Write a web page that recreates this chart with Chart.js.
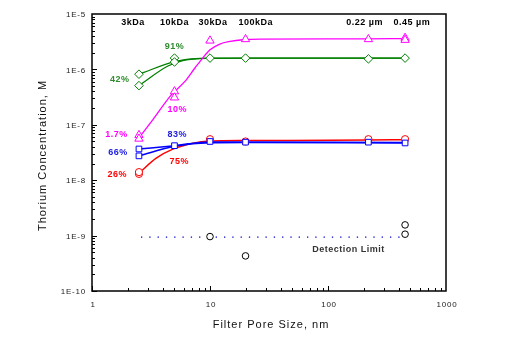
<!DOCTYPE html>
<html>
<head>
<meta charset="utf-8">
<script src="https://cdn.jsdelivr.net/npm/chart.js@4/dist/chart.umd.min.js"></script>
<style>
  html, body { margin: 0; padding: 0; background: #fff; }
  canvas { display: block; }
</style>
</head>
<body>
<canvas id="poreChart" width="519" height="340"></canvas>
<script>
// 軸の目盛
const xTicks = [1, 10, 100, 1000];
const xTickLabels = ['1', '10', '100', '1000'];
const yTicks = [1e-10, 1e-9, 1e-8, 1e-7, 1e-6, 1e-5];
const yTickLabels = ['1E-10', '1E-9', '1E-8', '1E-7', '1E-6', '1E-5'];

// 測定点 (ろ過孔径 nm, Th 濃度 M)
const magentaX = [2.5, 2.5, 5, 5, 10, 20, 220, 450, 450];
const magentaY = [6.5e-8, 5.6e-8, 4.0e-7, 3.1e-7, 3.3e-6, 3.5e-6, 3.5e-6, 3.7e-6, 3.4e-6];
const greenX = [2.5, 2.5, 5, 5, 10, 20, 220, 450];
const greenY = [8.2e-7, 5.1e-7, 1.6e-6, 1.36e-6, 1.6e-6, 1.6e-6, 1.55e-6, 1.6e-6];
const blueX = [2.5, 2.5, 5, 10, 20, 220, 450];
const blueY = [3.66e-8, 2.75e-8, 4.2e-8, 5.0e-8, 4.86e-8, 4.86e-8, 4.7e-8];
const redX = [2.5, 2.5, 10, 20, 220, 450];
const redY = [1.3e-8, 1.4e-8, 5.5e-8, 5.0e-8, 5.5e-8, 5.5e-8];
const blackX = [10, 20, 450, 450];
const blackY = [9.6e-10, 4.3e-10, 1.56e-9, 1.06e-9];

// フィット曲線
const magentaFitX = [2.5, 3.27, 4.72, 6.1, 7.45, 8.7, 10, 12.1, 14.8, 19, 26.5, 220, 450];
const magentaFitY = [5.8e-8, 1.23e-7, 3.5e-7, 6.0e-7, 1.06e-6, 1.62e-6, 2.26e-6, 2.87e-6, 3.2e-6, 3.43e-6, 3.53e-6, 3.55e-6, 3.6e-6];
const greenFitAX = [2.5, 5, 7, 10, 450];
const greenFitAY = [8.2e-7, 1.38e-6, 1.55e-6, 1.6e-6, 1.6e-6];
const greenFitBX = [2.5, 4.4, 6, 10, 20, 450];
const greenFitBY = [5.1e-7, 1.15e-6, 1.45e-6, 1.58e-6, 1.6e-6, 1.6e-6];
const blueFitAX = [2.5, 5, 10, 450];
const blueFitAY = [3.66e-8, 4.2e-8, 4.9e-8, 4.8e-8];
const blueFitBX = [2.5, 5, 10, 20, 450];
const blueFitBY = [2.75e-8, 4.1e-8, 4.75e-8, 4.8e-8, 4.7e-8];
const redFitX = [2.5, 3.5, 4.84, 7, 10, 20, 220, 450];
const redFitY = [1.34e-8, 2.5e-8, 3.63e-8, 4.6e-8, 5.1e-8, 5.2e-8, 5.3e-8, 5.4e-8];

// 検出限界
const limitX = [2.6, 450];
const limitY = [9.4e-10, 9.4e-10];

const FONT = '"Liberation Sans", Arial, sans-serif';

function toPoints(xs, ys) {
  return xs.map((x, i) => ({ x: x, y: ys[i] }));
}

function markerSet(xs, ys, color, style, radius) {
  return {
    data: toPoints(xs, ys),
    pointStyle: style,
    pointRadius: radius,
    borderColor: color,
    backgroundColor: '#fff',
    pointBorderWidth: 1,
    showLine: false,
    order: 0
  };
}

function lineSet(xs, ys, color, width) {
  return {
    data: toPoints(xs, ys),
    borderColor: color,
    borderWidth: width || 1.3,
    pointRadius: 0,
    showLine: true,
    cubicInterpolationMode: 'monotone',
    order: 1
  };
}

// 図中の文字 (データ座標)
const notes = [
  { text: '3kDa', x: 2.23, y: 6.9e-6, color: '#000' },
  { text: '10kDa', x: 5, y: 6.9e-6, color: '#000' },
  { text: '30kDa', x: 10.6, y: 6.9e-6, color: '#000' },
  { text: '100kDa', x: 24.4, y: 6.9e-6, color: '#000' },
  { text: '0.22 µm', x: 204, y: 6.9e-6, color: '#000' },
  { text: '0.45 µm', x: 514, y: 6.9e-6, color: '#000' },
  { text: '91%', x: 5, y: 2.6e-6, color: '#2E8B2E' },
  { text: '42%', x: 1.72, y: 6.5e-7, color: '#2E8B2E' },
  { text: '10%', x: 5.27, y: 1.92e-7, color: '#FF00FF' },
  { text: '1.7%', x: 1.61, y: 6.6e-8, color: '#FF00FF' },
  { text: '83%', x: 5.27, y: 6.8e-8, color: '#2020E0' },
  { text: '66%', x: 1.66, y: 3.15e-8, color: '#2020E0' },
  { text: '26%', x: 1.64, y: 1.25e-8, color: '#FF0000' },
  { text: '75%', x: 5.48, y: 2.17e-8, color: '#FF0000' },
  { text: 'Detection Limit', x: 149, y: 5.5e-10, color: '#333' }
];

// 枠・内向き目盛・ラベル
const framePlugin = {
  id: 'framePlugin',
  beforeDatasetsDraw(chart) {
    const { ctx, chartArea: a, scales: { x, y } } = chart;
    ctx.save();
    ctx.strokeStyle = '#000';
    ctx.lineWidth = 1.5;
    ctx.strokeRect(a.left, a.top, a.right - a.left, a.bottom - a.top);

    ctx.lineWidth = 1;
    ctx.beginPath();
    for (let e = 0; e < 3; e++) {
      for (let m = 1; m <= 9; m++) {
        const px = Math.round(x.getPixelForValue(m * Math.pow(10, e))) + 0.5;
        const len = m === 1 ? 5 : 3;
        ctx.moveTo(px, a.bottom);
        ctx.lineTo(px, a.bottom - len);
      }
    }
    for (let e = -10; e < -5; e++) {
      for (let m = 1; m <= 9; m++) {
        const py = Math.round(y.getPixelForValue(m * Math.pow(10, e))) + 0.5;
        const len = m === 1 ? 5 : 3;
        ctx.moveTo(a.left, py);
        ctx.lineTo(a.left + len, py);
      }
    }
    ctx.stroke();

    // 目盛ラベル
    ctx.fillStyle = '#222';
    ctx.font = '8px ' + FONT;
    ctx.letterSpacing = '0.8px';
    ctx.textBaseline = 'middle';
    ctx.textAlign = 'right';
    yTicks.forEach((v, i) => {
      ctx.fillText(yTickLabels[i], a.left - 6, y.getPixelForValue(v) + 1);
    });
    ctx.textAlign = 'center';
    xTicks.forEach((v, i) => {
      ctx.fillText(xTickLabels[i], x.getPixelForValue(v) + 1, a.bottom + 14);
    });

    // 軸タイトル
    ctx.fillStyle = '#111';
    ctx.font = '11px ' + FONT;
    ctx.letterSpacing = '1px';
    ctx.fillText('Filter Pore Size, nm', (x.getPixelForValue(1) + x.getPixelForValue(1000)) / 2 + 2, a.bottom + 34);
    ctx.translate(43, (a.top + a.bottom) / 2 + 3);
    ctx.rotate(-Math.PI / 2);
    ctx.fillText('Thorium Concentration, M', 0, 0);
    ctx.restore();
  },
  afterDatasetsDraw(chart) {
    const { ctx, scales: { x, y } } = chart;
    ctx.save();
    ctx.font = 'bold 9px ' + FONT;
    ctx.letterSpacing = '0.5px';
    ctx.textAlign = 'center';
    ctx.textBaseline = 'middle';
    notes.forEach(n => {
      ctx.fillStyle = n.color;
      ctx.fillText(n.text, x.getPixelForValue(n.x), y.getPixelForValue(n.y));
    });
    ctx.restore();
  }
};

const ctx = document.getElementById('poreChart').getContext('2d');
new Chart(ctx, {
  type: 'scatter',
  data: {
    datasets: [
      lineSet(magentaFitX, magentaFitY, '#FF00FF', 1.3),
      lineSet(greenFitAX, greenFitAY, '#008000', 1.3),
      lineSet(greenFitBX, greenFitBY, '#008000', 1.3),
      lineSet(blueFitAX, blueFitAY, '#0000FF', 1.5),
      lineSet(blueFitBX, blueFitBY, '#0000FF', 1.5),
      lineSet(redFitX, redFitY, '#FF0000', 1.5),
      {
        data: toPoints(limitX, limitY),
        borderColor: '#0000CC',
        borderWidth: 1.3,
        borderDash: [1.3, 7],
        pointRadius: 0,
        showLine: true,
        order: 1
      },
      markerSet(magentaX, magentaY, '#FF00FF', 'triangle', 4.8),
      markerSet(greenX, greenY, '#008000', 'rectRot', 4.3),
      markerSet(blueX, blueY, '#0000FF', 'rect', 4),
      markerSet(redX, redY, '#FF0000', 'circle', 3.6),
      markerSet(blackX, blackY, '#000', 'circle', 3.3)
    ]
  },
  options: {
    responsive: false,
    animation: false,
    devicePixelRatio: 1,
    layout: { padding: { left: 0, top: 14, right: 73, bottom: 0 } },
    plugins: {
      legend: { display: false },
      tooltip: { enabled: false }
    },
    scales: {
      x: {
        type: 'logarithmic',
        min: 1,
        max: 1000,
        grid: { display: false },
        border: { display: false },
        ticks: { display: false },
        afterFit(s) { s.height = 49; }
      },
      y: {
        type: 'logarithmic',
        min: 1e-10,
        max: 1e-5,
        grid: { display: false },
        border: { display: false },
        ticks: { display: false },
        afterFit(s) { s.width = 92; }
      }
    }
  },
  plugins: [framePlugin]
});
</script>
</body>
</html>
